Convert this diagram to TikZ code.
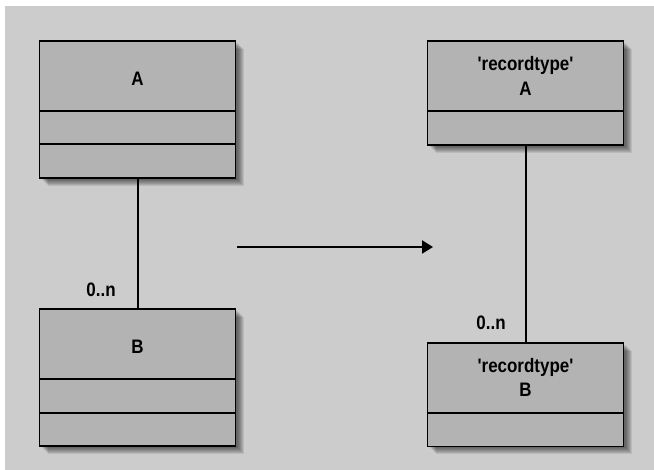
\documentclass[tikz,border=0pt]{standalone}
\usepackage{fontspec}
\newfontfamily\labelfont{Liberation Sans}[FakeStretch=0.87]
\usetikzlibrary{arrows.meta,shadows}

\definecolor{canvasgray}{HTML}{CCCCCC}
\definecolor{boxgray}{HTML}{B3B3B3}

\tikzset{
  shadowlayer/.style={general shadow={fill=black, draw=none, fill opacity=0.09,
      shadow xshift=#1, shadow yshift=-#1}},
  umlbox/.style={draw=black, line width=1.3pt, fill=boxgray, inner sep=0pt,
    minimum width=196pt,
    shadowlayer=2pt, shadowlayer=3pt, shadowlayer=4pt, shadowlayer=5pt,
    shadowlayer=6pt, shadowlayer=7pt, shadowlayer=8pt},
  divider/.style={draw=black, line width=1.3pt},
  assoc/.style={draw=black, line width=2pt},
  mapsto/.style={draw=black, line width=2.2pt, -{Triangle[length=11pt,width=13pt]}},
  txt/.style={font=\labelfont\bfseries\fontsize{19.5}{23}\selectfont, inner sep=0pt, anchor=base}
}

\begin{document}
\begin{tikzpicture}[x=1pt, y=-1pt]
  \useasboundingbox (0,0) rectangle (654,470);
  \fill[canvasgray] (5,6) rectangle (654,470);

  % original model: class A with multiplicity 0..n to class B
  \node[umlbox, minimum height=137pt] (A1) at (137.5,109.5) {};
  \draw[divider] (A1.west |- 0,111) -- (A1.east |- 0,111);
  \draw[divider] (A1.west |- 0,144) -- (A1.east |- 0,144);
  \node[txt] (A1name) at (137.5,86) {A};

  \node[umlbox, minimum height=137pt] (B1) at (137.5,377.5) {};
  \draw[divider] (B1.west |- 0,379) -- (B1.east |- 0,379);
  \draw[divider] (B1.west |- 0,413) -- (B1.east |- 0,413);
  \node[txt] (B1name) at (137.5,354) {B};

  \draw[assoc] (A1.south) -- (B1.north);
  \node[txt] (m1) at (101,296.5) {0..n};

  % transformation arrow
  \coordinate (mapfrom) at (237,247);
  \coordinate (mapto) at (433,247);
  \draw[mapsto] (mapfrom) -- (mapto);

  % record-type model
  \node[umlbox, minimum height=104pt] (A2) at (525.5,93) {};
  \draw[divider] (A2.west |- 0,111) -- (A2.east |- 0,111);
  \node[txt] (A2type) at (525.5,71) {'recordtype'};
  \node[txt] (A2name) at (525.5,95.5) {A};

  \node[umlbox, minimum height=103.5pt] (B2) at (525.5,394.75) {};
  \draw[divider] (B2.west |- 0,413) -- (B2.east |- 0,413);
  \node[txt] (B2type) at (525.5,372.5) {'recordtype'};
  \node[txt] (B2name) at (525.5,397) {B};

  \draw[assoc] (A2.south) -- (B2.north);
  \node[txt] (m2) at (491,330) {0..n};
\end{tikzpicture}
\end{document}
